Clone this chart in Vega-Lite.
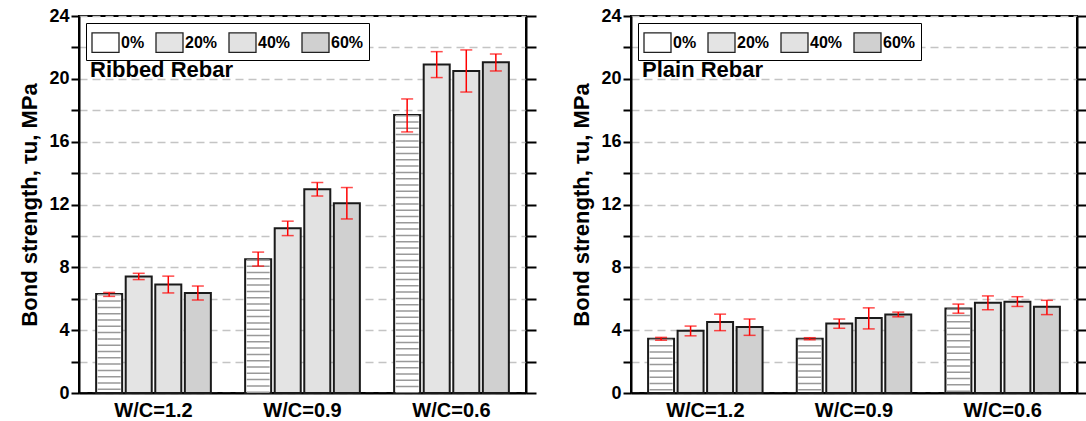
{
  "$schema": "https://vega.github.io/schema/vega-lite/v6.json",
  "padding": {"left": 17, "top": 6, "right": 0, "bottom": 0},
  "background": "white",
  "datasets": {
    "ribbed": [
      {"wc": "W/C=1.2", "pct": "0%", "value": 6.30, "lo": 6.15, "hi": 6.40},
      {"wc": "W/C=1.2", "pct": "20%", "value": 7.42, "lo": 7.22, "hi": 7.62},
      {"wc": "W/C=1.2", "pct": "40%", "value": 6.91, "lo": 6.37, "hi": 7.44},
      {"wc": "W/C=1.2", "pct": "60%", "value": 6.37, "lo": 5.92, "hi": 6.81},
      {"wc": "W/C=0.9", "pct": "0%", "value": 8.52, "lo": 8.08, "hi": 8.97},
      {"wc": "W/C=0.9", "pct": "20%", "value": 10.49, "lo": 10.02, "hi": 10.94},
      {"wc": "W/C=0.9", "pct": "40%", "value": 12.97, "lo": 12.54, "hi": 13.40},
      {"wc": "W/C=0.9", "pct": "60%", "value": 12.08, "lo": 11.08, "hi": 13.08},
      {"wc": "W/C=0.6", "pct": "0%", "value": 17.70, "lo": 16.62, "hi": 18.72},
      {"wc": "W/C=0.6", "pct": "20%", "value": 20.92, "lo": 20.08, "hi": 21.73},
      {"wc": "W/C=0.6", "pct": "40%", "value": 20.50, "lo": 19.16, "hi": 21.84},
      {"wc": "W/C=0.6", "pct": "60%", "value": 21.05, "lo": 20.50, "hi": 21.58}
    ],
    "plain": [
      {"wc": "W/C=1.2", "pct": "0%", "value": 3.46, "lo": 3.36, "hi": 3.54},
      {"wc": "W/C=1.2", "pct": "20%", "value": 3.96, "lo": 3.64, "hi": 4.26},
      {"wc": "W/C=1.2", "pct": "40%", "value": 4.52, "lo": 3.97, "hi": 5.02},
      {"wc": "W/C=1.2", "pct": "60%", "value": 4.20, "lo": 3.67, "hi": 4.71},
      {"wc": "W/C=0.9", "pct": "0%", "value": 3.46, "lo": 3.39, "hi": 3.52},
      {"wc": "W/C=0.9", "pct": "20%", "value": 4.43, "lo": 4.12, "hi": 4.71},
      {"wc": "W/C=0.9", "pct": "40%", "value": 4.77, "lo": 4.08, "hi": 5.42},
      {"wc": "W/C=0.9", "pct": "60%", "value": 5.00, "lo": 4.85, "hi": 5.15},
      {"wc": "W/C=0.6", "pct": "0%", "value": 5.38, "lo": 5.08, "hi": 5.66},
      {"wc": "W/C=0.6", "pct": "20%", "value": 5.75, "lo": 5.30, "hi": 6.18},
      {"wc": "W/C=0.6", "pct": "40%", "value": 5.81, "lo": 5.51, "hi": 6.13},
      {"wc": "W/C=0.6", "pct": "60%", "value": 5.49, "lo": 4.99, "hi": 5.90}
    ]
  },
  "config": {
    "font": "Liberation Sans",
    "view": {"stroke": "black", "strokeWidth": 2},
    "axis": {"domainColor": "black", "domainWidth": 2, "tickColor": "black", "tickWidth": 2, "labelColor": "black", "titleColor": "black"},
    "title": {"color": "black"}
  },
  "spacing": 31,
  "resolve": {"scale": {"x": "independent", "y": "independent", "xOffset": "independent", "fill": "independent"}, "legend": {"fill": "independent"}},
  "hconcat": [
    {
      "width": 447, "height": 377,
      "data": {"name": "ribbed"},
      "title": {"text": "Ribbed Rebar", "anchor": "start", "frame": "group", "orient": "top", "offset": -92, "dx": 11, "baseline": "alphabetic", "fontSize": 22, "fontWeight": "bold", "font": "Liberation Sans"},
      "encoding": {
        "x": {"field": "wc", "type": "nominal", "sort": ["W/C=1.2", "W/C=0.9", "W/C=0.6"], "scale": {"paddingInner": 0.23, "paddingOuter": 0.115},
              "axis": {"title": null, "ticks": false, "labelAngle": 0, "labelFontSize": 20, "labelFontWeight": "bold", "labelPadding": 7}},
        "xOffset": {"field": "pct", "type": "nominal", "sort": ["0%", "20%", "40%", "60%"], "scale": {"domain": ["0%", "20%", "40%", "60%"], "paddingInner": 0.12, "paddingOuter": 0}}
      },
      "layer": [
        {"mark": {"type": "bar", "stroke": "#1a1a1a", "strokeWidth": 2},
         "encoding": {
           "y": {"field": "value", "type": "quantitative", "scale": {"domain": [0, 24], "nice": false},
                 "axis": {"orient": "left", "values": [0,2,4,6,8,10,12,14,16,18,20,22,24], "labelExpr": "datum.value % 4 === 0 ? datum.label : ''",
                          "grid": true, "gridColor": "#c4c4c4", "gridDash": [8, 5], "gridWidth": 1.5, "tickSize": 8, "labelPadding": 2,
                          "labelFontSize": 18, "labelFontWeight": "bold", "title": "Bond strength, τu, MPa", "titleFontSize": 22, "titleFontWeight": "bold", "titlePadding": 7}},
           "fill": {"field": "pct", "type": "nominal", "scale": {"domain": ["0%", "20%", "40%", "60%"], "range": ["#ffffff", "#e4e4e4", "#e2e2e2", "#d0d0d0"]},
                    "legend": {"orient": "top-left", "direction": "horizontal", "title": null, "strokeColor": "black", "fillColor": "white", "padding": 5, "offset": 7,
                               "symbolType": "M-1,-0.72H1V0.72H-1Z", "symbolSize": 729, "symbolStrokeColor": "#222", "symbolStrokeWidth": 1.3, "symbolOpacity": 1,
                               "labelFontSize": 16, "labelFontWeight": "bold", "labelColor": "black", "labelOffset": 1, "columnPadding": 8}}
         }},
        {"transform": [{"filter": "datum.pct === '0%'"}],
         "mark": {"type": "rule", "strokeWidth": 23, "strokeDash": [1.5, 4.8], "color": "#999999", "strokeCap": "butt"},
         "encoding": {"y": {"field": "value", "type": "quantitative", "axis": null}, "y2": {"datum": 0}}},
        {"mark": {"type": "rule", "color": "#ff0000", "strokeWidth": 1.5},
         "encoding": {"y": {"field": "lo", "type": "quantitative",
                            "axis": {"orient": "right", "values": [0,2,4,6,8,10,12,14,16,18,20,22,24], "labels": false, "grid": false, "tickSize": 10, "title": null}},
                      "y2": {"field": "hi"}}},
        {"mark": {"type": "tick", "color": "#ff0000", "thickness": 1.5, "size": 12},
         "encoding": {"y": {"field": "lo", "type": "quantitative", "axis": null}}},
        {"mark": {"type": "tick", "color": "#ff0000", "thickness": 1.5, "size": 12},
         "encoding": {"y": {"field": "hi", "type": "quantitative", "axis": null}}}
      ],
      "resolve": {"axis": {"y": "independent"}}
    },
    {
      "width": 446, "height": 377,
      "data": {"name": "plain"},
      "title": {"text": "Plain Rebar", "anchor": "start", "frame": "group", "orient": "top", "offset": -92, "dx": 11, "baseline": "alphabetic", "fontSize": 22, "fontWeight": "bold", "font": "Liberation Sans"},
      "encoding": {
        "x": {"field": "wc", "type": "nominal", "sort": ["W/C=1.2", "W/C=0.9", "W/C=0.6"], "scale": {"paddingInner": 0.23, "paddingOuter": 0.115},
              "axis": {"title": null, "ticks": false, "labelAngle": 0, "labelFontSize": 20, "labelFontWeight": "bold", "labelPadding": 7}},
        "xOffset": {"field": "pct", "type": "nominal", "sort": ["0%", "20%", "40%", "60%"], "scale": {"domain": ["0%", "20%", "40%", "60%"], "paddingInner": 0.12, "paddingOuter": 0}}
      },
      "layer": [
        {"mark": {"type": "bar", "stroke": "#1a1a1a", "strokeWidth": 2},
         "encoding": {
           "y": {"field": "value", "type": "quantitative", "scale": {"domain": [0, 24], "nice": false},
                 "axis": {"orient": "left", "values": [0,2,4,6,8,10,12,14,16,18,20,22,24], "labelExpr": "datum.value % 4 === 0 ? datum.label : ''",
                          "grid": true, "gridColor": "#c4c4c4", "gridDash": [8, 5], "gridWidth": 1.5, "tickSize": 8, "labelPadding": 2,
                          "labelFontSize": 18, "labelFontWeight": "bold", "title": "Bond strength, τu, MPa", "titleFontSize": 22, "titleFontWeight": "bold", "titlePadding": 7}},
           "fill": {"field": "pct", "type": "nominal", "scale": {"domain": ["0%", "20%", "40%", "60%"], "range": ["#ffffff", "#e4e4e4", "#e2e2e2", "#d0d0d0"]},
                    "legend": {"orient": "top-left", "direction": "horizontal", "title": null, "strokeColor": "black", "fillColor": "white", "padding": 5, "offset": 7,
                               "symbolType": "M-1,-0.72H1V0.72H-1Z", "symbolSize": 729, "symbolStrokeColor": "#222", "symbolStrokeWidth": 1.3, "symbolOpacity": 1,
                               "labelFontSize": 16, "labelFontWeight": "bold", "labelColor": "black", "labelOffset": 1, "columnPadding": 8}}
         }},
        {"transform": [{"filter": "datum.pct === '0%'"}],
         "mark": {"type": "rule", "strokeWidth": 23, "strokeDash": [1.5, 4.8], "color": "#999999", "strokeCap": "butt"},
         "encoding": {"y": {"field": "value", "type": "quantitative", "axis": null}, "y2": {"datum": 0}}},
        {"mark": {"type": "rule", "color": "#ff0000", "strokeWidth": 1.5},
         "encoding": {"y": {"field": "lo", "type": "quantitative",
                            "axis": {"orient": "right", "values": [0,2,4,6,8,10,12,14,16,18,20,22,24], "labels": false, "grid": false, "tickSize": 10, "title": null}},
                      "y2": {"field": "hi"}}},
        {"mark": {"type": "tick", "color": "#ff0000", "thickness": 1.5, "size": 12},
         "encoding": {"y": {"field": "lo", "type": "quantitative", "axis": null}}},
        {"mark": {"type": "tick", "color": "#ff0000", "thickness": 1.5, "size": 12},
         "encoding": {"y": {"field": "hi", "type": "quantitative", "axis": null}}}
      ],
      "resolve": {"axis": {"y": "independent"}}
    }
  ]
}
